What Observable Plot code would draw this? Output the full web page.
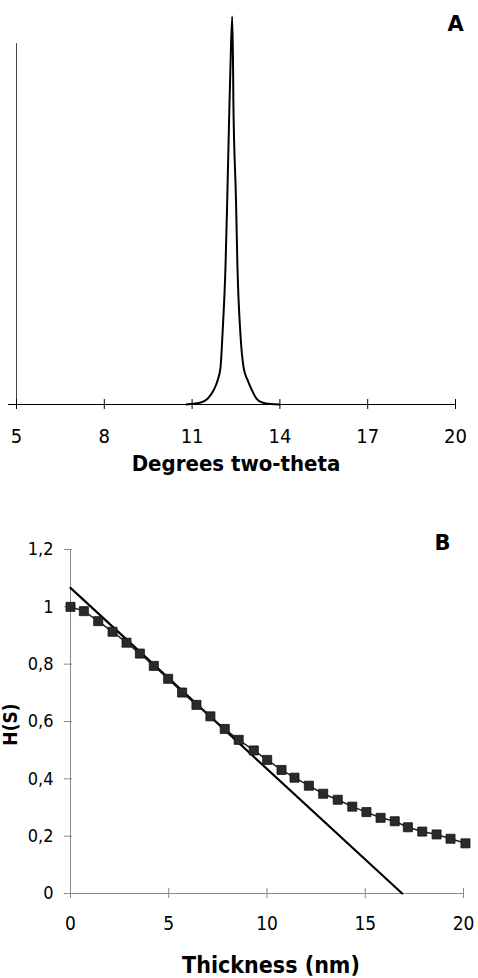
<!DOCTYPE html>
<html><head><meta charset="utf-8">
<script src="https://cdn.jsdelivr.net/npm/d3@7"></script>
<script src="https://cdn.jsdelivr.net/npm/@observablehq/plot@0.6"></script>
<style>
html,body{margin:0;padding:0;background:#fff;}
#chart svg{display:block;}
</style></head><body><div id="chart"></div>
<script>
// Panel A: X-ray diffraction peak
const peakX = [10.8, 11.05, 11.29, 11.53, 11.73, 11.87, 11.97, 12.04, 12.14, 12.20, 12.28, 12.31, 12.37, 12.40, 12.41, 12.50, 12.55, 12.65, 12.76, 12.90, 13.05, 13.20, 13.40, 13.68, 14.0];
const peakY = [0, 2, 5, 15, 36, 62, 95, 183, 353, 526, 784, 869, 1000, 869, 784, 526, 353, 183, 95, 62, 36, 15, 5, 1, 0];
const xTicksA = [5, 8, 11, 14, 17, 20];
const yAxisTopA = 930;

// Panel B: H(S) vs thickness
const thickness = [0, 0.68, 1.41, 2.14, 2.85, 3.53, 4.24, 4.97, 5.68, 6.41, 7.12, 7.85, 8.56, 9.33, 10.01, 10.74, 11.40, 12.13, 12.86, 13.60, 14.34, 15.06, 15.78, 16.50, 17.17, 17.90, 18.63, 19.34, 20.10];
const hs = [1.00, 0.985, 0.950, 0.913, 0.875, 0.837, 0.794, 0.749, 0.701, 0.658, 0.618, 0.574, 0.536, 0.499, 0.466, 0.431, 0.404, 0.376, 0.348, 0.327, 0.303, 0.284, 0.264, 0.252, 0.231, 0.216, 0.206, 0.191, 0.175];
const fitX = [0, 16.88];
const fitY = [1.066, 0];
const xTicksB = [0, 5, 10, 15, 20];
const yTicksB = [0, 0.2, 0.4, 0.6, 0.8, 1, 1.2];
const yTickLabelsB = ["0", "0,2", "0,4", "0,6", "0,8", "1", "1,2"];

const FONT = "'DejaVu Sans Condensed', 'DejaVu Sans', sans-serif";
const peak = peakX.map((x, i) => ({x, y: peakY[i]}));
const pts = thickness.map((x, i) => ({x, y: hs[i]}));
const fit = fitX.map((x, i) => ({x, y: fitY[i]}));

const plotA = Plot.plot({
  width: 478, height: 490,
  marginTop: 16, marginBottom: 86, marginLeft: 16, marginRight: 23,
  style: {fontFamily: FONT, background: "#fff", color: "#000", overflow: "visible"},
  x: {domain: [5, 20]},
  y: {domain: [0, 1000], axis: null},
  marks: [
    Plot.ruleX([5], {y1: 0, y2: yAxisTopA, stroke: "#444", strokeWidth: 1}),
    Plot.ruleY([0], {stroke: "#000", strokeWidth: 1.2, insetLeft: -8}),
    Plot.axisX({ticks: xTicksA, tickSize: 5, tickPadding: 19, fontSize: 20, label: null, stroke: "#000"}),
    Plot.axisX({ticks: xTicksA, tickSize: -5, tickFormat: () => "", label: null, stroke: "#000"}),
    Plot.line(peak, {x: "x", y: "y", stroke: "#000", strokeWidth: 2, curve: "monotone-x", clip: false}),
    Plot.text(["Degrees two-theta"], {frameAnchor: "bottom", dy: 59, fontSize: 22, fontWeight: "bold", lineAnchor: "middle", fontFamily: FONT}),
    Plot.text(["A"], {frameAnchor: "top-right", textAnchor: "middle", lineAnchor: "middle", dy: 8, fontSize: 21, fontWeight: "bold", fontFamily: "'DejaVu Sans', sans-serif"})
  ]
});

const plotB = Plot.plot({
  width: 478, height: 488,
  marginTop: 59, marginBottom: 85, marginLeft: 70, marginRight: 15,
  style: {fontFamily: FONT, background: "#fff", color: "#000", overflow: "visible"},
  x: {domain: [0, 20]},
  y: {domain: [0, 1.2]},
  marks: [
    Plot.ruleX([0], {stroke: "#888", strokeWidth: 1}),
    Plot.ruleY([0], {stroke: "#888", strokeWidth: 1}),
    Plot.axisY({ticks: yTicksB, tickSize: 6, tickPadding: 11, fontSize: 18, label: null, stroke: "#888",
      tickFormat: d => yTickLabelsB[yTicksB.indexOf(d)]}),
    Plot.axisY({ticks: yTicksB, tickSize: -2, tickFormat: () => "", label: null, stroke: "#888"}),
    Plot.axisX({ticks: xTicksB, tickSize: 5, tickPadding: 18, fontSize: 19, label: null, stroke: "#888"}),
    Plot.axisX({ticks: xTicksB, tickSize: -5, tickFormat: () => "", label: null, stroke: "#888"}),
    Plot.line(fit, {x: "x", y: "y", stroke: "#000", strokeWidth: 2.2}),
    Plot.line(pts, {x: "x", y: "y", stroke: "#222", strokeWidth: 1.5}),
    Plot.dot(pts, {x: "x", y: "y", symbol: "square", r: 5.1, fill: "#2a2a2a", stroke: "#111", strokeWidth: 0.8}),
    Plot.text(["Thickness (nm)"], {frameAnchor: "bottom", dy: 72, dx: 4, fontSize: 23, fontWeight: "bold", lineAnchor: "middle", fontFamily: FONT}),
    Plot.text(["H(S)"], {frameAnchor: "left", dx: -60, dy: 3, rotate: -90, fontSize: 19, fontWeight: "bold", lineAnchor: "middle", textAnchor: "middle", fontFamily: FONT}),
    Plot.text(["B"], {frameAnchor: "top-right", textAnchor: "middle", lineAnchor: "middle", dx: -21, dy: -6, fontSize: 21, fontWeight: "bold", fontFamily: "'DejaVu Sans', sans-serif"})
  ]
});

const c = document.getElementById("chart");
c.appendChild(plotA);
c.appendChild(plotB);
</script></body></html>
